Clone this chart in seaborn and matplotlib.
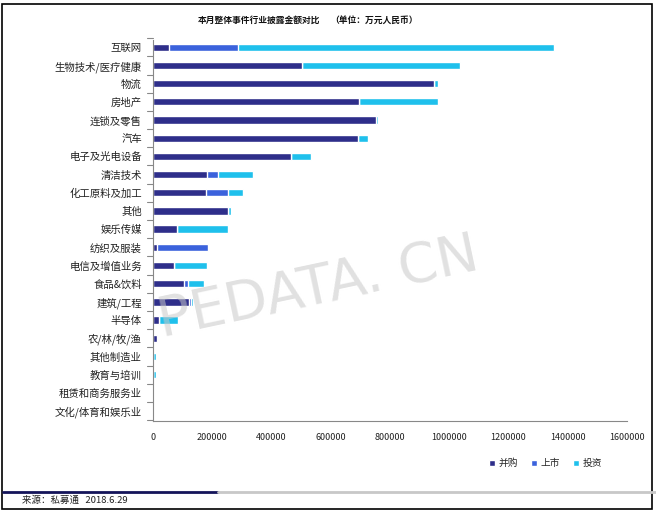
import numpy as np
import pandas as pd
import matplotlib
matplotlib.use("Agg")
import matplotlib.pyplot as plt
import seaborn as sns
from matplotlib.patches import Rectangle
from matplotlib.lines import Line2D

sns.set_style("white")
plt.rcParams['font.family'] = ['Noto Sans CJK SC', 'DejaVu Sans']

categories = ["互联网", "生物技术/医疗健康", "物流", "房地产", "连锁及零售", "汽车",
              "电子及光电设备", "清洁技术", "化工原料及加工", "其他", "娱乐传媒",
              "纺织及服装", "电信及增值业务", "食品&饮料", "建筑/工程", "半导体",
              "农/林/牧/渔", "其他制造业", "教育与培训", "租赁和商务服务业", "文化/体育和娱乐业"]

mna = [54000, 502000, 948000, 695000, 754000, 692000, 466000, 181000, 179000, 253000,
       80000, 12500, 71000, 106000, 123000, 19000, 13500, 0, 0, 0, 0]
ipo = [232000, 0, 0, 0, 0, 0, 0, 38000, 73000, 0,
       0, 174500, 0, 11000, 5000, 0, 0, 0, 0, 0, 0]
vc = [1068000, 533000, 13000, 266000, 6000, 34000, 67000, 117600, 51000, 9000,
      172000, 0, 110000, 54000, 8000, 64000, 0, 11000, 9000, 0, 0]

series_names = ["并购", "上市", "投资"]
xticks = list(range(0, 1600001, 200000))
colors = ["#2E2E8A", "#3B62DC", "#1FC0EC"]

n = len(categories)
df = pd.DataFrame({"cat": categories, "并购": mna, "上市": ipo, "投资": vc})
df["c1"] = df["并购"]
df["c2"] = df["并购"] + df["上市"]
df["c3"] = df["c2"] + df["投资"]

fig = plt.figure(figsize=(6.56, 5.13), dpi=100)
ax = fig.add_axes([153/656, 1-421/513, (627-153)/656, (421-40)/513])

w = 0.4
for col, c in zip(["c3", "c2", "c1"], colors[::-1]):
    sns.barplot(data=df, y="cat", x=col, color=c, orient="h", width=w, ax=ax,
                order=categories, saturation=1)

ax.set_xlim(0, 1600000)
ax.set_ylim(n - 1 + 0.55, -0.4)
ax.set_xlabel("")
ax.set_ylabel("")
ax.set_xticks(xticks)
ax.set_xticklabels([str(v) for v in xticks], fontsize=6.5, color="#222222")
ax.set_yticks(range(n))
ax.set_yticklabels(categories, fontsize=7.5, color="#222222")
ax.tick_params(axis="y", length=0, pad=8)
ax.tick_params(axis="x", length=3, color="#888888", direction="out", pad=6)
for y in np.arange(-0.5, n, 1.0):
    ax.plot([-0.012, 0], [y, y], transform=ax.get_yaxis_transform(), color="#888888",
            lw=0.8, clip_on=False)
for s in ["top", "right"]:
    ax.spines[s].set_visible(False)
for s in ["left", "bottom"]:
    ax.spines[s].set_color("#888888")
    ax.spines[s].set_linewidth(0.8)

fig.text(259/656, 1-20/513, "本月整体事件行业披露金额对比", ha="center", va="center",
         fontsize=6.3, fontweight="bold", color="#111111")
fig.text(374/656, 1-20/513, "（单位：万元人民币）", ha="center", va="center",
         fontsize=6.3, fontweight="bold", color="#111111")

# watermark
fig.text(318/656, 1-288/513, "PEDATA. CN", ha="center", va="center", fontsize=40,
         rotation=12, color="#c8c8c8", alpha=0.55, family="DejaVu Sans", zorder=10)

# legend
handles = [Line2D([0], [0], marker="s", color="w", markerfacecolor=c, markersize=4)
           for c in colors]
fig.legend(handles, series_names, loc="center", bbox_to_anchor=(545/656, 1-463/513),
           ncol=3, frameon=False, fontsize=7, handlelength=0.8, handletextpad=0.3,
           columnspacing=1.2)

# bottom decoration
fig.add_artist(Line2D([3/656, 218/656], [1-492/513, 1-492/513], color="#14145A", lw=2,
                      transform=fig.transFigure))
fig.add_artist(Line2D([218/656, 656/656], [1-492/513, 1-492/513], color="#C8C8C8", lw=2,
                      transform=fig.transFigure))
fig.text(22/656, 1-500/513, "来源：私募通   2018.6.29", ha="left", va="center",
         fontsize=6.8, color="#222222")

# outer frame
fig.add_artist(Rectangle((2/656, 4/513), 650/656, 505/513, transform=fig.transFigure,
                         fill=False, edgecolor="black", lw=1.2))

fig.savefig("out.png", dpi=100)
